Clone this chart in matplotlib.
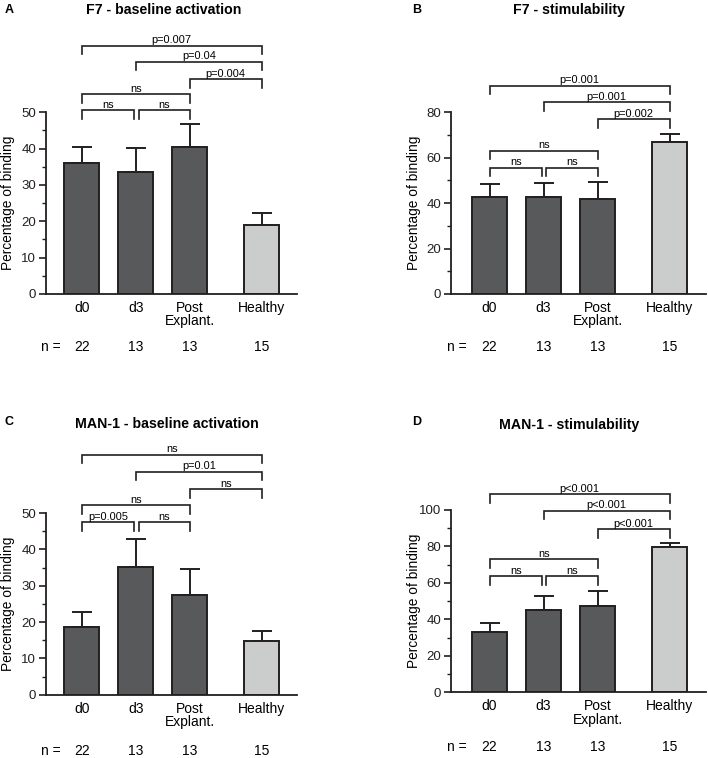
import matplotlib
matplotlib.use("Agg")
import matplotlib.pyplot as plt
from matplotlib.ticker import MultipleLocator

plt.rcParams['font.family'] = ['Liberation Sans', 'DejaVu Sans']

categories = ["d0", "d3", "Post\nExplant.", "Healthy"]
n_values = ["22", "13", "13", "15"]

# panel data
titles = ["F7 - baseline activation", "F7 - stimulability",
          "MAN-1 - baseline activation", "MAN-1 - stimulability"]
panel_letters = ["A", "B", "C", "D"]

means_A = [36.0, 33.7, 40.4, 19.0]
errs_A = [4.5, 6.5, 6.4, 3.3]
means_B = [42.9, 42.5, 42.0, 66.9]
errs_B = [5.4, 6.5, 7.1, 3.5]
means_C = [18.7, 35.2, 27.3, 14.8]
errs_C = [4.1, 7.7, 7.3, 2.7]
means_D = [32.9, 45.1, 47.5, 79.7]
errs_D = [5.1, 7.9, 8.2, 2.3]

# brackets: (i, j, height, label)
brackets_A = [(0, 1, 50.5, "ns"), (1, 2, 50.5, "ns"), (0, 2, 55.0, "ns"),
              (2, 3, 59.1, "p=0.004"), (1, 3, 63.9, "p=0.04"), (0, 3, 68.3, "p=0.007")]
brackets_B = [(0, 1, 55.6, "ns"), (1, 2, 55.6, "ns"), (0, 2, 63.0, "ns"),
              (2, 3, 76.9, "p=0.002"), (1, 3, 84.4, "p=0.001"), (0, 3, 91.7, "p=0.001")]
brackets_C = [(0, 1, 47.4, "p=0.005"), (1, 2, 47.4, "ns"), (0, 2, 52.2, "ns"),
              (2, 3, 56.6, "ns"), (1, 3, 61.4, "p=0.01"), (0, 3, 66.0, "ns")]
brackets_D = [(0, 1, 63.8, "ns"), (1, 2, 63.8, "ns"), (0, 2, 73.0, "ns"),
              (2, 3, 89.4, "p<0.001"), (1, 3, 99.5, "p<0.001"), (0, 3, 108.6, "p<0.001")]

ymax_list = [50, 80, 50, 100]
major_list = [10, 20, 10, 20]

panels = [
    (means_A, errs_A, brackets_A),
    (means_B, errs_B, brackets_B),
    (means_C, errs_C, brackets_C),
    (means_D, errs_D, brackets_D),
]

xpos = [0, 1, 2, 3.33]
dark = "#58595b"
light = "#cbcccc"
edge = "#231f20"

W, H = 708, 758
fig = plt.figure(figsize=(W / 100, H / 100), dpi=100)

axes_rects = [
    (45.7, 294.0, 296.7, 112.3),
    (450.7, 294.0, 705.7, 112.3),
    (45.7, 694.7, 296.7, 513.0),
    (450.7, 692.3, 705.7, 510.0),
]
xlims = [(-0.67, 3.98), (-0.72, 4.0), (-0.67, 3.98), (-0.72, 4.0)]
title_pos = [(164, 10), (569, 10), (166.7, 424), (569, 425)]
letter_pos = [(9, 10), (416.7, 10), (9, 421.7), (416.7, 422.3)]
n_offsets = [-0.292, -0.29, -0.308, -0.30]
n_label_x = [-0.76, -0.79, -0.76, -0.79]
ylabel_x = [-0.122, -0.118, -0.122, -0.118]

for k, (means, errs, brackets) in enumerate(panels):
    l, b, r, t = axes_rects[k]
    ax = fig.add_axes([l / W, 1 - b / H, (r - l) / W, (b - t) / H])
    colors = [dark, dark, dark, light]
    ax.bar(xpos, means, width=0.65, color=colors, edgecolor=edge, linewidth=1.4, zorder=2)
    ax.errorbar(xpos, means, yerr=[[0] * 4, errs], fmt='none', ecolor=edge,
                elinewidth=1.4, capsize=7.5, capthick=1.4, zorder=1)
    ymax = ymax_list[k]
    ax.set_ylim(0, ymax)
    ax.set_xlim(*xlims[k])
    ax.yaxis.set_major_locator(MultipleLocator(major_list[k]))
    ax.yaxis.set_minor_locator(MultipleLocator(major_list[k] / 2))
    ax.spines['top'].set_visible(False)
    ax.spines['right'].set_visible(False)
    for s in ['left', 'bottom']:
        ax.spines[s].set_linewidth(1.3)
        ax.spines[s].set_color(edge)
    ax.tick_params(axis='y', which='major', length=5, width=1.2, labelsize=9.5, pad=2, colors=edge)
    ax.tick_params(axis='y', which='minor', length=3, width=1.0, colors=edge)
    ax.set_xticks(xpos)
    ax.set_xticklabels(categories, fontsize=10, linespacing=0.95)
    ax.tick_params(axis='x', length=0, pad=5)
    ax.set_ylabel("Percentage of binding", fontsize=9.9)
    ax.yaxis.set_label_coords(ylabel_x[k], 0.5)

    # n row
    ax.text(n_label_x[k], n_offsets[k], "n =", transform=ax.get_xaxis_transform(),
            ha='left', va='center', fontsize=10, clip_on=False)
    for xp, nv in zip(xpos, n_values):
        ax.text(xp, n_offsets[k], nv, transform=ax.get_xaxis_transform(),
                ha='center', va='center', fontsize=10, clip_on=False)

    # brackets
    leg = ymax * 0.047
    for (i, j, h, lab) in brackets:
        x1 = xpos[i]
        x2 = xpos[j]
        # gap where adjacent brackets at same level share an endpoint
        for (i2, j2, h2, _) in brackets:
            if h2 == h and j2 == i:
                x1 += 0.05
            if h2 == h and i2 == j:
                x2 -= 0.03
        ax.plot([x1, x1, x2, x2], [h - leg, h, h, h - leg], color=edge, lw=1.2,
                clip_on=False, solid_joinstyle='miter')
        ax.annotate(lab, xy=((x1 + x2) / 2, h), xytext=(0, 0.3), textcoords='offset points',
                    ha='center', va='bottom', fontsize=7.9, annotation_clip=False)

    tx, ty = title_pos[k]
    fig.text(tx / W, 1 - ty / H, titles[k], ha='center', va='center',
             fontsize=10.2, fontweight='bold')
    lx, ly = letter_pos[k]
    fig.text(lx / W, 1 - ly / H, panel_letters[k], ha='center', va='center',
             fontsize=9, fontweight='bold')

fig.savefig("out.png", dpi=100)
